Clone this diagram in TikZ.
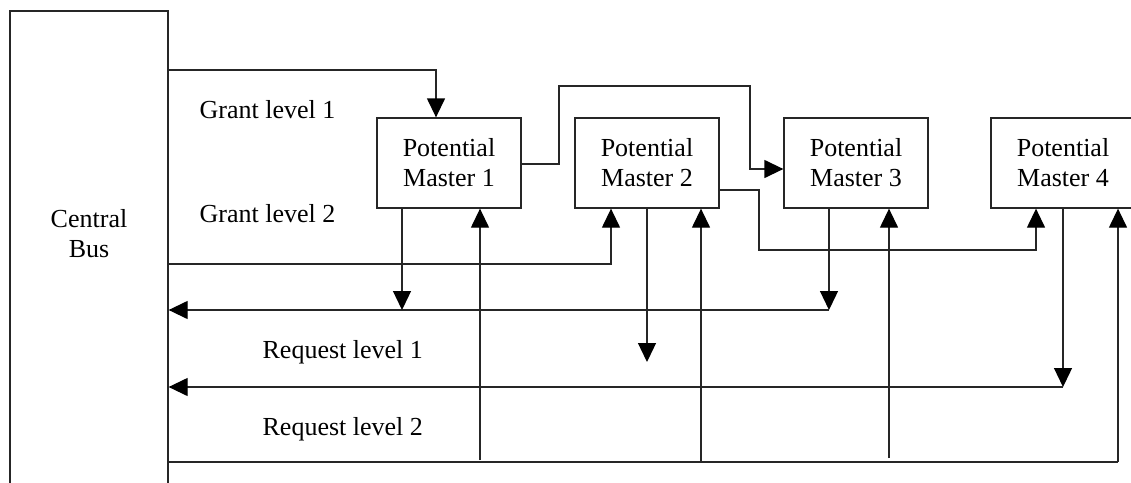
\documentclass[tikz,border=0pt]{standalone}
\usepackage{fontspec}
\setmainfont{Liberation Serif}
\usetikzlibrary{arrows.meta}
\begin{document}
\begin{tikzpicture}[x=1pt,y=-1pt,
  line width=1.3pt, draw=black!85,
  tip/.style={-{Triangle[length=19pt,width=18pt,color=black,fill=black]}},
  pmbox/.style={draw, minimum width=144pt, minimum height=90pt, inner sep=0pt, align=center, font=\fontsize{26}{30}\selectfont},
  lbl/.style={anchor=base west, inner sep=0pt, font=\fontsize{26}{30}\selectfont},
]
\useasboundingbox (0,0) rectangle (1131,482);
\clip (0,0) rectangle (1131,482);
% central bus
\node[draw, minimum width=158pt, minimum height=509pt, inner sep=0pt] (bus) at (89,265.5) {};
\node[align=center, inner sep=0pt, font=\fontsize{26}{30}\selectfont] (bustext) at (89,234) {Central\\Bus};
% masters
\node[pmbox] (pm1) at (449,163) {Potential\\Master 1};
\node[pmbox] (pm2) at (647,163) {Potential\\Master 2};
\node[pmbox] (pm3) at (856,163) {Potential\\Master 3};
\node[pmbox] (pm4) at (1063,163) {Potential\\Master 4};
% labels
\node[lbl] (g1) at (199,118) {Grant level 1};
\node[lbl] (g2) at (199,222) {Grant level 2};
\node[lbl] (r1) at (262,358) {Request level 1};
\node[lbl] (r2) at (262,435) {Request level 2};
% coordinates
\coordinate (g1turn) at (436,70);
\coordinate (g2turn) at (611,264);
\coordinate (a1) at (559,164);
\coordinate (a2) at (559,86);
\coordinate (a3) at (750,86);
\coordinate (a4) at (750,169);
\coordinate (b1) at (759,190);
\coordinate (b2) at (759,250);
\coordinate (b3) at (1036,250);
\coordinate (r1end) at (829,310);
\coordinate (d1) at (402,310);
\coordinate (d2) at (647,362);
\coordinate (r2end) at (1063,387);
\coordinate (bl) at (1118,462);
\coordinate (u1) at (480,460);
\coordinate (u2) at (701,462);
\coordinate (u3) at (889,458);
% grant lines
\draw[tip] (bus.east |- g1turn) -- (g1turn) -- (g1turn |- pm1.north);
\draw[tip] (bus.east |- g2turn) -- (g2turn) -- (g2turn |- pm2.south);
\draw[tip] (pm1.east |- a1) -- (a1) -- (a2) -- (a3) -- (a4) -- (pm3.west |- a4);
\draw[tip] (pm2.east |- b1) -- (b1) -- (b2) -- (b3) -- (b3 |- pm4.south);
% request lines
\draw[tip] (r1end |- pm3.south) -- (r1end);
\draw[tip] (r1end) -- (bus.east |- r1end);
\draw[tip] (d1 |- pm1.south) -- (d1);
\draw[tip] (pm2.south) -- (d2);
\draw[tip] (pm4.south) -- (r2end);
\draw[tip] (r2end) -- (bus.east |- r2end);
% bottom line and up arrows
\draw (bus.east |- bl) -- (bl);
\draw[tip] (bl) -- (bl |- pm4.south);
\draw[tip] (u1) -- (u1 |- pm1.south);
\draw[tip] (u2) -- (u2 |- pm2.south);
\draw[tip] (u3) -- (u3 |- pm3.south);
\end{tikzpicture}
\end{document}
